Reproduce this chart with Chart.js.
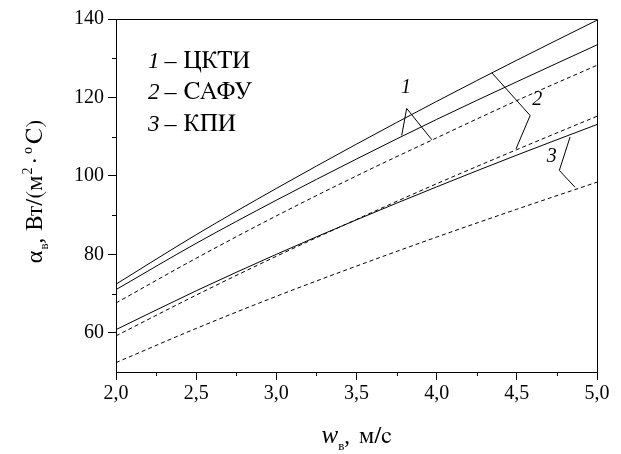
<!DOCTYPE html>
<html>
<head>
<meta charset="utf-8">
<script src="https://cdn.jsdelivr.net/npm/chart.js@4.4.0/dist/chart.umd.min.js"></script>
<style>
  html, body { margin: 0; padding: 0; background: #fff; }
  #wrap { width: 621px; height: 454px; }
</style>
</head>
<body>
<div id="wrap"><canvas id="alphaChart" width="621" height="454"></canvas></div>
<script>
// air velocity, m/s
const speeds = [2.0, 2.5, 3.0, 3.5, 4.0, 4.5, 5.0];
// heat transfer coefficient, W/(m2*C)
const cktiSolid  = [71.0, 82.8, 93.8, 104.3, 114.4, 124.0, 133.4];
const cktiDashed = [67.6, 79.0, 89.8, 100.0, 109.7, 119.2, 128.2];
const safuSolid  = [72.4, 85.0, 96.8, 108.1, 119.0, 129.5, 139.7];
const safuDashed = [59.2, 69.6, 79.5, 88.9, 98.0, 106.7, 115.2];
const kpiSolid   = [60.8, 70.7, 80.0, 88.8, 97.2, 105.3, 113.1];
const kpiDashed  = [52.4, 61.1, 69.3, 77.0, 84.4, 91.5, 98.4];

const xTicks = [2.0, 2.5, 3.0, 3.5, 4.0, 4.5, 5.0];
const xMinor = [2.25, 2.75, 3.25, 3.75, 4.25, 4.75];
const yTicks = [60, 80, 100, 120, 140];
const yMinor = [70, 90, 110, 130];

const legendRows = [['1', 'ЦКТИ'], ['2', 'САФУ'], ['3', 'КПИ']];

// curve numbers with leader lines (data coordinates)
const leaders = [
  { label: '1', at: [3.809, 122.4], path: [[3.782, 110.3], [3.813, 117.2], [3.97, 109.2]] },
  { label: '2', at: [4.628, 119.3], path: [[4.344, 126.3], [4.583, 115.4], [4.495, 106.9]] },
  { label: '3', at: [4.718, 104.8], path: [[4.832, 109.9], [4.765, 101.4], [4.863, 97.1]] }
];

const FONT = '"Liberation Serif", serif';
const CYR = 'FreeSerif, "DejaVu Serif Condensed", serif';

function series(values, dashed) {
  return {
    data: speeds.map((w, i) => ({ x: w, y: values[i] })),
    borderColor: '#000',
    borderWidth: 1,
    borderDash: dashed ? [4, 3] : [],
    pointRadius: 0,
    fill: false,
    cubicInterpolationMode: 'monotone'
  };
}

function fontOf(p) {
  return (p.italic ? 'italic ' : '') + p.size + 'px ' + (p.cyr ? CYR : FONT);
}

// flows text pieces one after another: {t, size, italic, cyr, dy, gap}
function drawFlow(ctx, parts, x, y, centered) {
  let total = 0;
  parts.forEach(p => {
    ctx.font = fontOf(p);
    p.w = ctx.measureText(p.t).width;
    total += p.w + (p.gap || 0);
  });
  let cx = centered ? x - total / 2 : x;
  parts.forEach(p => {
    cx += p.gap || 0;
    ctx.font = fontOf(p);
    ctx.fillText(p.t, cx, y + (p.dy || 0));
    cx += p.w;
  });
}

const decorations = {
  id: 'decorations',
  afterDraw(chart) {
    const ctx = chart.ctx;
    const area = chart.chartArea;
    const xs = chart.scales.x, ys = chart.scales.y;
    ctx.save();
    ctx.strokeStyle = '#000';
    ctx.fillStyle = '#000';
    ctx.lineWidth = 1;

    // frame on top and right
    ctx.beginPath();
    ctx.moveTo(area.left, area.top + 0.5);
    ctx.lineTo(area.right + 0.5, area.top + 0.5);
    ctx.lineTo(area.right + 0.5, area.bottom);
    ctx.stroke();

    // minor ticks
    ctx.beginPath();
    xMinor.forEach(v => {
      const px = Math.round(xs.getPixelForValue(v)) + 0.5;
      ctx.moveTo(px, area.bottom);
      ctx.lineTo(px, area.bottom + 4);
    });
    yMinor.forEach(v => {
      const py = Math.round(ys.getPixelForValue(v)) + 0.5;
      ctx.moveTo(area.left, py);
      ctx.lineTo(area.left - 4, py);
    });
    ctx.stroke();

    // leaders
    ctx.textAlign = 'center';
    ctx.textBaseline = 'middle';
    leaders.forEach(l => {
      ctx.beginPath();
      l.path.forEach((p, i) => {
        const px = xs.getPixelForValue(p[0]), py = ys.getPixelForValue(p[1]);
        if (i === 0) ctx.moveTo(px, py); else ctx.lineTo(px, py);
      });
      ctx.stroke();
      ctx.font = 'italic 20px ' + FONT;
      ctx.fillText(l.label, xs.getPixelForValue(l.at[0]), ys.getPixelForValue(l.at[1]));
    });

    // legend block
    ctx.textAlign = 'left';
    ctx.textBaseline = 'alphabetic';
    legendRows.forEach((r, i) => {
      drawFlow(ctx, [
        { t: r[0], size: 23, italic: true },
        { t: '–', size: 24, gap: 5 },
        { t: r[1], size: 25, cyr: true, gap: 7 }
      ], 148, 68 + i * 31.3, false);
    });

    // x axis title
    drawFlow(ctx, [
      { t: 'w', size: 25, italic: true },
      { t: 'в', size: 13, cyr: true, dy: 7 },
      { t: ',', size: 23 },
      { t: 'м/с', size: 24, cyr: true, gap: 9 }
    ], (area.left + area.right) / 2, 443, true);

    // y axis title, read bottom to top
    ctx.translate(42, (area.top + area.bottom) / 2 - 4);
    ctx.rotate(-Math.PI / 2);
    drawFlow(ctx, [
      { t: 'α', size: 24 },
      { t: 'в', size: 13, cyr: true, dy: 6, gap: 1 },
      { t: ',', size: 23 },
      { t: 'Вт/(м', size: 24, cyr: true, gap: 7 },
      { t: '2', size: 14, dy: -10, gap: 1 },
      { t: '·', size: 23, gap: 3 },
      { t: 'o', size: 14, dy: -10, gap: 3 },
      { t: 'С)', size: 24, cyr: true, gap: 3 }
    ], 0, 0, true);
    ctx.restore();
  }
};

new Chart(document.getElementById('alphaChart').getContext('2d'), {
  type: 'line',
  data: {
    datasets: [
      series(safuSolid, false),
      series(cktiSolid, false),
      series(cktiDashed, true),
      series(kpiSolid, false),
      series(safuDashed, true),
      series(kpiDashed, true)
    ]
  },
  options: {
    responsive: false,
    animation: false,
    layout: { padding: { left: 0, top: 19, right: 24, bottom: 0 } },
    plugins: { legend: { display: false }, tooltip: { enabled: false } },
    scales: {
      x: {
        type: 'linear',
        min: 2, max: 5,
        afterBuildTicks: s => { s.ticks = xTicks.map(v => ({ value: v })); },
        afterFit: s => { s.height = 82; },
        ticks: {
          color: '#000',
          font: { family: FONT, size: 20 },
          padding: 2,
          maxRotation: 0,
          callback: v => Number(v).toFixed(1).replace('.', ',')
        },
        grid: { drawOnChartArea: false, drawTicks: true, tickLength: 8, color: '#000' },
        border: { color: '#000', width: 1 }
      },
      y: {
        min: 50, max: 140,
        afterBuildTicks: s => { s.ticks = yTicks.map(v => ({ value: v })); },
        afterFit: s => { s.width = 116; },
        ticks: {
          color: '#000',
          font: { family: FONT, size: 20 },
          padding: 4
        },
        grid: { drawOnChartArea: false, drawTicks: true, tickLength: 8, color: '#000' },
        border: { color: '#000', width: 1 }
      }
    }
  },
  plugins: [decorations]
});
</script>
</body>
</html>
